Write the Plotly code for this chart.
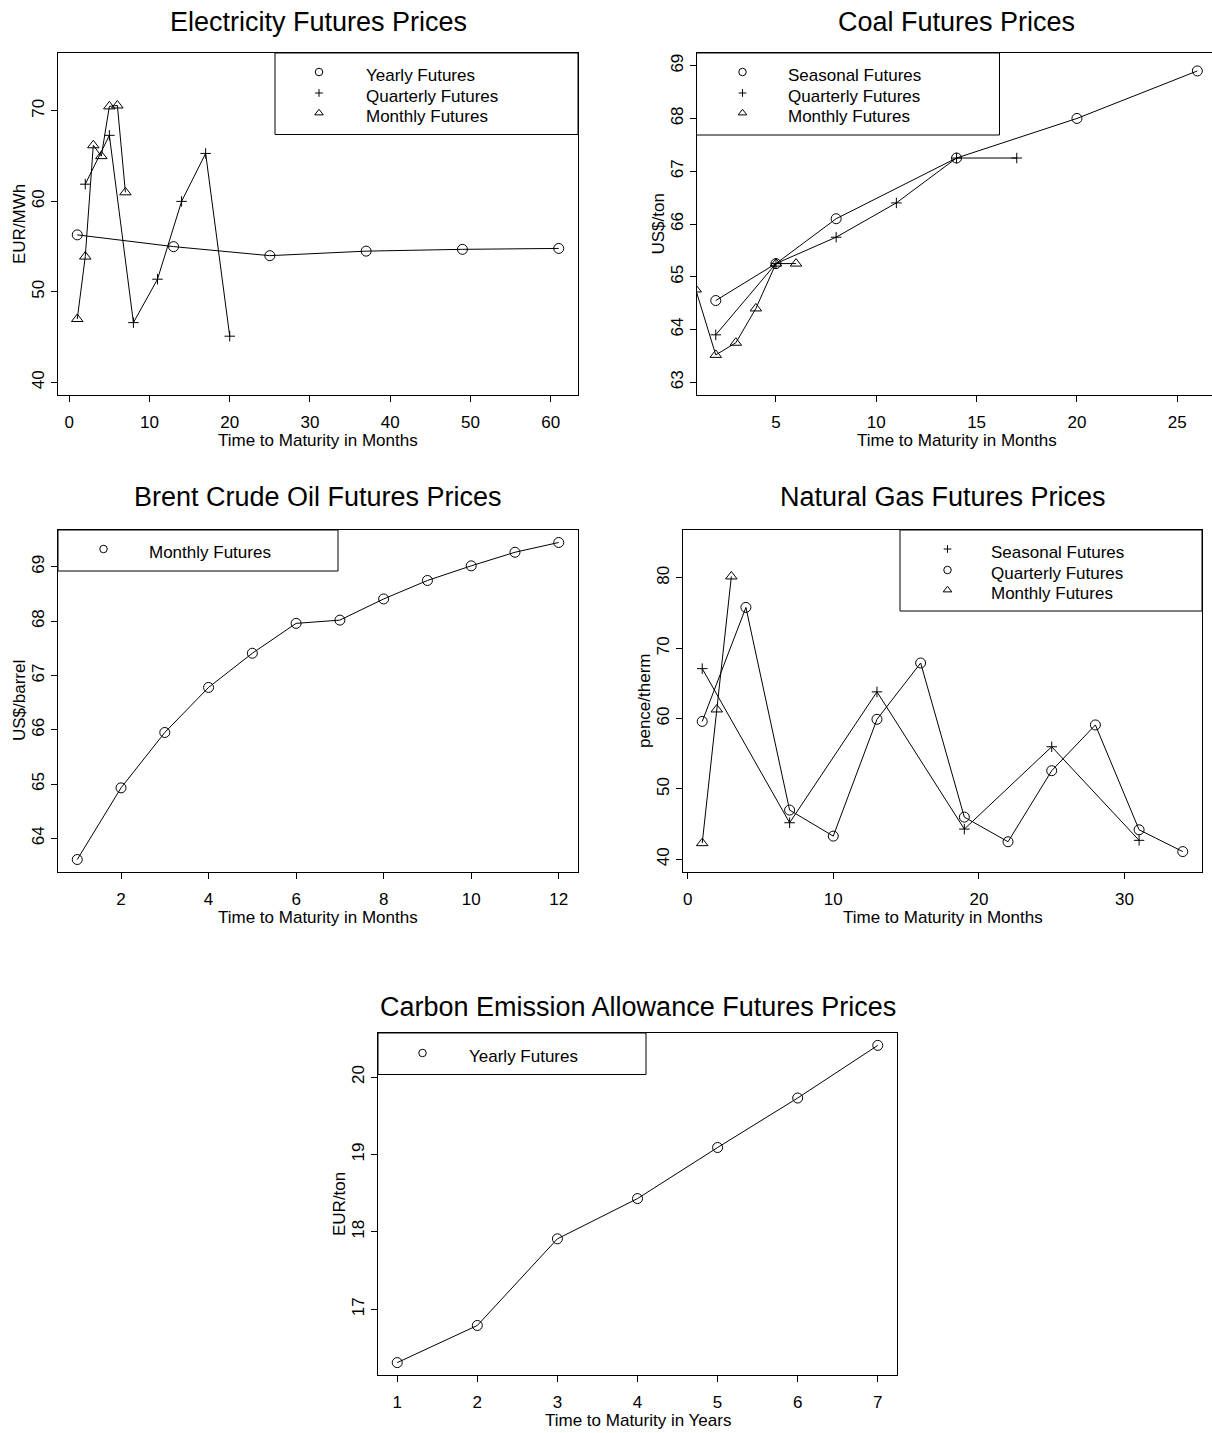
import plotly.graph_objects as go

# ---------------- data ----------------
elec_yearly_x = [1, 13, 25, 37, 49, 61]
elec_yearly_y = [56.3, 55.0, 54.0, 54.5, 54.7, 54.8]
elec_quarterly_x = [2, 5, 8, 11, 14, 17, 20]
elec_quarterly_y = [61.9, 67.3, 46.6, 51.4, 60.0, 65.3, 45.1]
elec_monthly_x = [1, 2, 3, 4, 5, 6, 7]
elec_monthly_y = [47.0, 53.9, 66.2, 65.0, 70.5, 70.6, 61.0]

coal_seasonal_x = [2, 5, 8, 14, 20, 26]
coal_seasonal_y = [64.55, 65.25, 66.1, 67.25, 68.0, 68.9]
coal_quarterly_x = [2, 5, 8, 11, 14, 17]
coal_quarterly_y = [63.9, 65.25, 65.75, 66.4, 67.25, 67.25]
coal_monthly_x = [1, 2, 3, 4, 5, 6]
coal_monthly_y = [64.76, 63.52, 63.75, 64.4, 65.25, 65.25]

brent_monthly_x = [1, 2, 3, 4, 5, 6, 7, 8, 9, 10, 11, 12]
brent_monthly_y = [63.61, 64.93, 65.95, 66.78, 67.41, 67.96, 68.02, 68.41, 68.75, 69.02, 69.27, 69.45]

gas_seasonal_x = [1, 7, 13, 19, 25, 31]
gas_seasonal_y = [67.1, 45.2, 63.8, 44.3, 56.0, 42.7]
gas_quarterly_x = [1, 4, 7, 10, 13, 16, 19, 22, 25, 28, 31, 34]
gas_quarterly_y = [59.6, 75.8, 47.0, 43.3, 59.9, 67.9, 46.0, 42.5, 52.6, 59.1, 44.2, 41.1]
gas_monthly_x = [1, 2, 3]
gas_monthly_y = [42.3, 61.3, 80.2]

carbon_yearly_x = [1, 2, 3, 4, 5, 6, 7]
carbon_yearly_y = [16.31, 16.79, 17.91, 18.43, 19.09, 19.73, 20.41]

titles = ["Electricity Futures Prices", "Coal Futures Prices", "Brent Crude Oil Futures Prices",
          "Natural Gas Futures Prices", "Carbon Emission Allowance Futures Prices"]
ylabels = ["EUR/MWh", "US$/ton", "US$/barrel", "pence/therm", "EUR/ton"]
xlabels = ["Time to Maturity in Months"] * 4 + ["Time to Maturity in Years"]

# ---------------- layout settings ----------------
W, H = 1212, 1433
FONT = "Liberation Sans, Arial, Helvetica, sans-serif"
SYM = {"circle": ("circle-open", 10), "plus": ("cross-thin-open", 7.5), "tri": ("triangle-up-open", 10)}
LSYM = {"circle": ("circle-open", 7.5), "plus": ("cross-thin-open", 5.5), "tri": ("triangle-up-open", 7.5)}

panels = [
    dict(box=(58, 53, 578, 395), xr=[-1.4, 63.4], yr=[38.6, 76.4],
         xt=[0, 10, 20, 30, 40, 50, 60], yt=[40, 50, 60, 70], mirror_y=True,
         series=[(elec_yearly_x, elec_yearly_y, "circle", "Yearly Futures"),
                 (elec_quarterly_x, elec_quarterly_y, "plus", "Quarterly Futures"),
                 (elec_monthly_x, elec_monthly_y, "tri", "Monthly Futures")],
         leg=dict(box=(275, 53, 578, 134.5), sx=319, tx=364, ty=[75, 96, 116])),
    dict(box=(696.5, 53, 1212, 395), xr=[1.04, 26.73], yr=[62.76, 69.24],
         xt=[5, 10, 15, 20, 25], yt=[63, 64, 65, 66, 67, 68, 69], mirror_y=False,
         series=[(coal_seasonal_x, coal_seasonal_y, "circle", "Seasonal Futures"),
                 (coal_quarterly_x, coal_quarterly_y, "plus", "Quarterly Futures"),
                 (coal_monthly_x, coal_monthly_y, "tri", "Monthly Futures")],
         leg=dict(box=(696.5, 53, 999.5, 135), sx=742.5, tx=786, ty=[75, 96, 116]),
         tcx=956.5),
    dict(box=(58, 530, 578, 872), xr=[0.56, 12.44], yr=[63.38, 69.68],
         xt=[2, 4, 6, 8, 10, 12], yt=[64, 65, 66, 67, 68, 69], mirror_y=True,
         series=[(brent_monthly_x, brent_monthly_y, "circle", "Monthly Futures")],
         leg=dict(box=(58, 530, 338, 571), sx=103.5, tx=147, ty=[552])),
    dict(box=(683, 530, 1202, 872), xr=[-0.32, 35.32], yr=[38.2, 86.8],
         xt=[0, 10, 20, 30], yt=[40, 50, 60, 70, 80], mirror_y=True,
         series=[(gas_seasonal_x, gas_seasonal_y, "plus", "Seasonal Futures"),
                 (gas_quarterly_x, gas_quarterly_y, "circle", "Quarterly Futures"),
                 (gas_monthly_x, gas_monthly_y, "tri", "Monthly Futures")],
         leg=dict(box=(900, 530, 1202, 611), sx=947.5, tx=989, ty=[552, 573, 593])),
    dict(box=(378, 1033, 897, 1375), xr=[0.76, 7.24], yr=[16.15, 20.57],
         xt=[1, 2, 3, 4, 5, 6, 7], yt=[17, 18, 19, 20], mirror_y=True,
         series=[(carbon_yearly_x, carbon_yearly_y, "circle", "Yearly Futures")],
         leg=dict(box=(378, 1033, 646, 1074.5), sx=422.5, tx=467, ty=[1056])),
]

fig = go.Figure()
layout = dict(width=W, height=H, margin=dict(l=0, r=0, t=0, b=0),
              paper_bgcolor="white", plot_bgcolor="rgba(0,0,0,0)", showlegend=False,
              font=dict(family=FONT, color="black"))
annotations, shapes = [], []
OV = "6"  # overlay pixel axes for legend keys / text

for i, p in enumerate(panels):
    n = "" if i == 0 else str(i + 1)
    l, t, r, b = p["box"]
    axstyle = dict(showgrid=False, zeroline=False, showline=True, linecolor="black", linewidth=1,
                   ticks="outside", ticklen=6, tickwidth=1, tickcolor="black",
                   tickfont=dict(family=FONT, size=17, color="black"))
    layout["xaxis" + n] = dict(domain=[l / W, min(r / W, 1)], range=p["xr"], tickvals=p["xt"],
                               anchor="y" + n, mirror=True, ticklabelstandoff=6, **axstyle)
    layout["yaxis" + n] = dict(domain=[1 - b / H, 1 - t / H], range=p["yr"], tickvals=p["yt"],
                               anchor="x" + n, mirror=p["mirror_y"], tickangle=-90, **axstyle)
    for xs, ys, sym, name in p["series"]:
        s, sz = SYM[sym]
        fig.add_trace(go.Scatter(x=xs, y=ys, mode="lines+markers", name=name,
                                 xaxis="x" + n, yaxis="y" + n,
                                 line=dict(color="black", width=1),
                                 marker=dict(symbol=s, size=sz, color="black",
                                             line=dict(color="black", width=1))))
    # titles and axis labels
    cx = p.get("tcx", (l + r) / 2)
    ttl_y = {53: 22, 530: 497, 1033: 1007}[t]
    annotations.append(dict(xref="x" + OV, yref="y" + OV, x=cx, y=ttl_y, text=titles[i],
                            showarrow=False, xanchor="center", yanchor="middle",
                            font=dict(family=FONT, size=27, color="black")))
    annotations.append(dict(xref="x" + OV, yref="y" + OV, x=cx, y=b + 45,
                            text=xlabels[i], showarrow=False, xanchor="center", yanchor="middle",
                            font=dict(family=FONT, size=17, color="black")))
    annotations.append(dict(xref="x" + OV, yref="y" + OV, x=l - 39, y=(t + b) / 2,
                            text=ylabels[i], showarrow=False, textangle=-90,
                            xanchor="center", yanchor="middle",
                            font=dict(family=FONT, size=17, color="black")))
    # legend
    lg = p["leg"]
    x0, y0, x1, y1 = lg["box"]
    shapes.append(dict(type="rect", xref="x" + OV, yref="y" + OV, x0=x0, y0=y0, x1=x1, y1=y1,
                       line=dict(color="black", width=1), fillcolor="rgba(0,0,0,0)", layer="above"))
    for (xs, ys, sym, name), ty in zip(p["series"], lg["ty"]):
        s, sz = LSYM[sym]
        fig.add_trace(go.Scatter(x=[lg["sx"]], y=[ty - 3], mode="markers", xaxis="x" + OV, yaxis="y" + OV,
                                 marker=dict(symbol=s, size=sz, color="black",
                                             line=dict(color="black", width=1)),
                                 hoverinfo="skip", cliponaxis=False, showlegend=False))
        annotations.append(dict(xref="x" + OV, yref="y" + OV, x=lg["tx"], y=ty, text=name,
                                showarrow=False, xanchor="left", yanchor="middle",
                                font=dict(family=FONT, size=17, color="black")))

layout["xaxis" + OV] = dict(domain=[0, 1], range=[0, W], visible=False, anchor="y" + OV, fixedrange=True)
layout["yaxis" + OV] = dict(domain=[0, 1], range=[H, 0], visible=False, anchor="x" + OV, fixedrange=True)
layout["annotations"] = annotations
layout["shapes"] = shapes
fig.update_layout(**layout)
fig.write_html("out.html")
